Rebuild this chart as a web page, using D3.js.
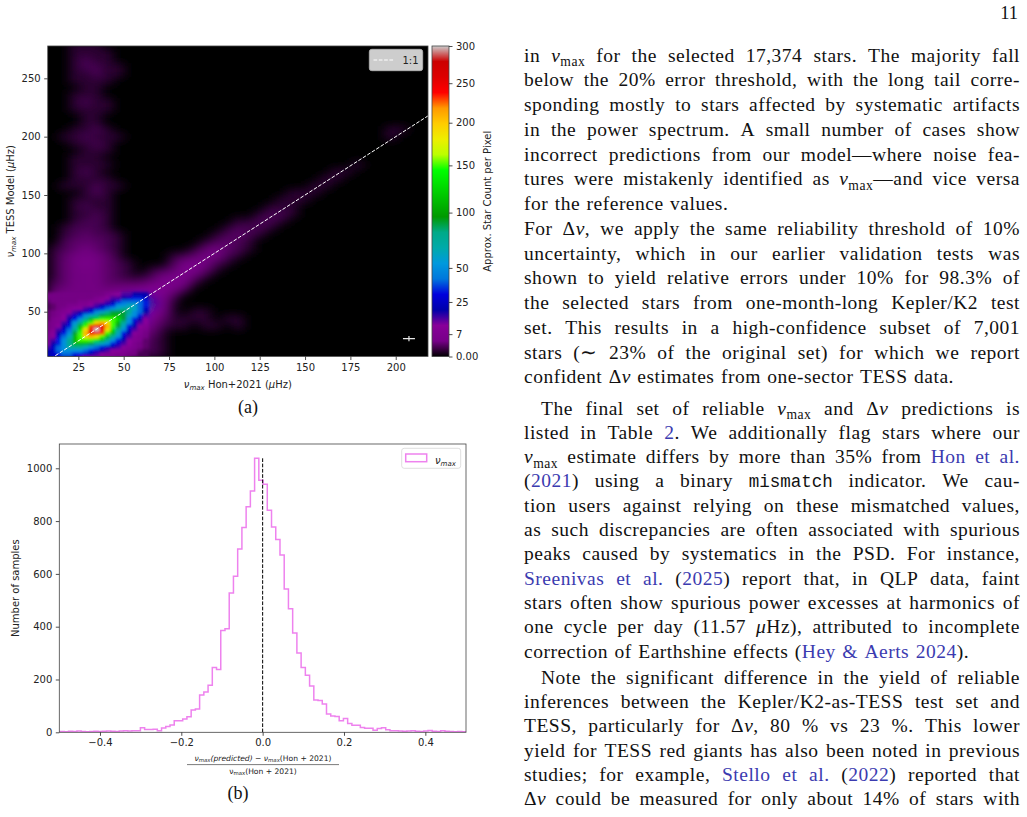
<!DOCTYPE html>
<html>
<head>
<meta charset="utf-8">
<script src="https://cdn.jsdelivr.net/npm/d3@7"></script>
<style>
  body { margin: 0; background: #fff; }
</style>
</head>
<body>
<svg id="page" width="1027" height="817"></svg>
<script>
// ---------- panel (a): approx. star count per pixel, one character per bin
var levelCodes = "0123456789abcdefghijklmnopqr";
var levelCounts = [0, 1, 2, 3, 4, 6, 8, 11, 15, 20, 25, 32, 40, 50, 62, 75, 90, 110, 130, 150, 170, 190, 210, 230, 250, 270, 290, 300];

// whole field, 6 uHz bins, bottom row first; "col:codes" runs, other bins are empty
var coarseBins = {x0: 8, y0: 11, size: 6};
var coarseRows = [
  ["0:bdcb9764221"],
  ["0:begfdb86321"],
  ["0:9eikjfb7421"],
  ["0:8chnojd9531"],
  ["0:6afknkgb7421101101"],
  ["0:58bfhihd9631111011"],
  ["0:468acefeb741011"],
  ["0:44578bddc951"],
  ["0:44444679a852"],
  ["0:3444445677642"],
  ["0:23444333345541"],
  ["0:134443211245531"],
  ["0:1344432101235531"],
  ["0:13454321000245421"],
  ["0:1344431", "11:1234421"],
  ["0:1234321", "13:134321"],
  ["1:233321", "14:12321"],
  ["1:123221", "15:12321"],
  ["1:12221", "16:12221"],
  ["2:1221", "17:11221"],
  ["2:1121", "19:1221"],
  ["2:1211", "20:111"],
  ["2:1111", "21:111"],
  ["3:121", "22:111"],
  ["1:111211", "24:11"],
  ["2:1111", "25:11"],
  ["2:121", "26:11"],
  ["2:1111", "28:1"],
  ["2:111"],
  ["3:111"],
  ["2:1121"],
  ["1:112111", "31:1"],
  ["2:1121", "31:11"],
  ["3:11"], ["3:11"],
  ["2:1111"],
  ["2:1211"],
  ["2:111"],
  ["3:11"],
  ["2:1111"],
  ["2:11211"],
  ["2:12211"],
  ["2:1211"],
  ["2:1111"],
  ["2:111"]
];

// dense core, 3 uHz bins, bottom row first
var fineBins = {x0: 6.5, y0: 9.5, size: 3};
var fineRows = [
  "9aaaa98776555443222",
  "9abccbba98766554422",
  "9acddddcba987765432",
  "8acdfffedcba9876543",
  "79bdfhhhgfedba87543",
  "68bdfhjjjihfdb97653",
  "67acehjlmljhfda8654",
  "579bdgjmoonjheb9764",
  "468acfilorolifda865",
  "4579behjnoomjgeb976",
  "4568adfijlmljhfda87",
  "35679bdfhijjjigdb97",
  "34578abdefghhhgedb8",
  "3456789abdefgggfdc9",
  "234567789abcdeffeca",
  "23445566789abddeecb",
  "3444445566789bccccb",
  "444444444567889abba",
  "4444444444456788999"
];

var colorTicks = [0, 7, 25, 50, 100, 150, 200, 250, 300];
var xTicksA = [25, 50, 75, 100, 125, 150, 175, 200];
var yTicksA = [50, 100, 150, 200, 250];
var typicalError = {x: 207.3, y: 26.9, dx: 3.3, dy: 2.3};

// nipy_spectral
var cmapStops = [0, 0.05, 0.10, 0.15, 0.20, 0.25, 0.30, 0.35, 0.40, 0.45, 0.50, 0.55, 0.60, 0.65, 0.70, 0.75, 0.80, 0.85, 0.90, 0.95, 1.0];
var cmapColors = ["#000000", "#770088", "#880099", "#0000aa", "#0000dd", "#0077dd", "#0099dd", "#00aaaa", "#00aa88", "#009900",
  "#00bb00", "#00dd00", "#00ff00", "#bbff00", "#eeee00", "#ffcc00", "#ff9900", "#ff0000", "#dd0000", "#cc0000", "#cccccc"];

// ---------- panel (b): histogram of relative differences
var histStart = -0.519, histWidth = 0.0104;
var histCounts = [
  1, 2, 3, 2, 4, 3, 5, 3, 2, 3, 4, 3, 4, 5, 4, 3, 5, 6, 5, 6,
  6, 17, 11, 11, 12, 6, 16, 22, 28, 44, 44, 50, 59, 84, 88, 141, 153, 178, 245, 238,
  386, 392, 528, 591, 694, 776, 854, 914, 1038, 955, 940, 841, 778, 730, 672, 543, 468, 376, 300, 245,
  216, 175, 122, 120, 107, 69, 62, 60, 44, 52, 33, 27, 27, 18, 15, 15, 8, 14, 17, 10,
  6, 6, 5, 4, 5, 6, 4, 3, 5, 7, 4, 3, 6, 4, 3, 2, 3, 2, 2, 1
];
var xTicksB = [-0.4, -0.2, 0, 0.2, 0.4];
var yTicksB = [0, 200, 400, 600, 800, 1000];

// ---------- text column
var paragraphs = [
  {indent: false, top: 61.5, lead: 24.75, last: true, lines: [
    "in %N for the selected 17,374 stars. The majority fall",
    "below the 20% error threshold, with the long tail corre-",
    "sponding mostly to stars affected by systematic artifacts",
    "in the power spectrum. A small number of cases show",
    "incorrect predictions from our model—where noise fea-",
    "tures were mistakenly identified as %N—and vice versa",
    "for the reference values."]},
  {indent: false, top: 234.75, lead: 24.75, last: true, lines: [
    "For %D, we apply the same reliability threshold of 10%",
    "uncertainty, which in our earlier validation tests was",
    "shown to yield relative errors under 10% for 98.3% of",
    "the selected stars from one-month-long Kepler/K2 test",
    "set. This results in a high-confidence subset of 7,001",
    "stars (∼ 23% of the original set) for which we report",
    "confident %D estimates from one-sector TESS data."]},
  {indent: true, top: 414.5, lead: 24.3, last: true, lines: [
    "The final set of reliable %N and %D predictions is",
    "listed in Table {2}. We additionally flag stars where our",
    "%N estimate differs by more than 35% from {Hon} {et} {al.}",
    "({2021}) using a binary `mismatch` indicator. We cau-",
    "tion users against relying on these mismatched values,",
    "as such discrepancies are often associated with spurious",
    "peaks caused by systematics in the PSD. For instance,",
    "{Sreenivas} {et} {al.} ({2025}) report that, in QLP data, faint",
    "stars often show spurious power excesses at harmonics of",
    "one cycle per day (11.57 %uHz), attributed to incomplete",
    "correction of Earthshine effects ({Hey} {&} {Aerts} {2024})."]},
  {indent: true, top: 684, lead: 24.2, last: false, lines: [
    "Note the significant difference in the yield of reliable",
    "inferences between the Kepler/K2-as-TESS test set and",
    "TESS, particularly for %D, 80 % vs 23 %. This lower",
    "yield for TESS red giants has also been noted in previous",
    "studies; for example, {Stello} {et} {al.} ({2022}) reported that",
    "%D could be measured for only about 14% of stars with"]}
];

var sansFont = "'DejaVu Sans', sans-serif",
    serifFont = "'Liberation Serif', 'Times New Roman', serif",
    monoFont = "'Liberation Mono', monospace",
    linkColor = "#3b3bb0",
    inkColor = "#222";

var svg = d3.select("#page");
svg.append("rect").attr("width", 1027).attr("height", 817).attr("fill", "#fff");
var defs = svg.append("defs");

var frac = d3.scalePow().exponent(0.7).domain([0, 300]).range([0, 1]).clamp(true);
var cmap = d3.scaleLinear().domain(cmapStops).range(cmapColors).interpolate(d3.interpolateRgb);

function mathText(sel, parts, subSize, subShift) {
  var down = false;
  parts.forEach(function(p) {
    var s = sel.append("tspan").text(p.t);
    if (p.it) s.attr("font-style", "italic");
    if (p.sub) {
      s.attr("font-size", subSize);
      if (!down) { s.attr("dy", subShift); down = true; }
    } else if (down) {
      s.attr("dy", -subShift); down = false;
    }
  });
  return sel;
}

function styleAxis(g) {
  g.attr("font-family", sansFont).attr("font-size", 10);
  g.select(".domain").remove();
  g.selectAll(".tick line").attr("stroke", inkColor).attr("stroke-width", 0.8);
  g.selectAll(".tick text").attr("fill", inkColor);
}

// ================= panel (a)
var boxA = {left: 47.7, right: 428, top: 46, bottom: 356.5};
var xA = d3.scaleLinear().domain([8.1, 217.8]).range([boxA.left, boxA.right]);
var yA = d3.scaleLinear().domain([11.6, 277.7]).range([boxA.bottom, boxA.top]);

defs.append("clipPath").attr("id", "clipA").append("rect")
    .attr("x", boxA.left).attr("y", boxA.top)
    .attr("width", boxA.right - boxA.left).attr("height", boxA.bottom - boxA.top);
defs.append("filter").attr("id", "blurCoarse")
    .attr("x", "-5%").attr("y", "-5%").attr("width", "110%").attr("height", "110%")
  .append("feGaussianBlur").attr("stdDeviation", "5.5 4.2");
defs.append("filter").attr("id", "blurFine")
    .attr("x", "-5%").attr("y", "-5%").attr("width", "110%").attr("height", "110%")
  .append("feGaussianBlur").attr("stdDeviation", "1.8 1.4");

function binsFrom(rows, bins) {
  var out = [];
  rows.forEach(function(row, r) {
    var runs = typeof row === "string" ? ["0:" + row] : row;
    runs.forEach(function(run) {
      var parts = run.split(":"), start = +parts[0];
      parts[1].split("").forEach(function(ch, k) {
        var v = levelCounts[levelCodes.indexOf(ch)];
        if (v > 0) out.push({x0: bins.x0 + (start + k) * bins.size, y0: bins.y0 + r * bins.size, size: bins.size, v: v});
      });
    });
  });
  return out;
}

var heat = svg.append("g").attr("clip-path", "url(#clipA)");
heat.append("rect")
    .attr("x", boxA.left).attr("y", boxA.top)
    .attr("width", boxA.right - boxA.left).attr("height", boxA.bottom - boxA.top)
    .attr("fill", "#000");

function drawBins(id, data) {
  heat.append("g").attr("filter", "url(#" + id + ")")
    .selectAll("rect").data(data).join("rect")
      .attr("x", function(d) { return xA(d.x0); })
      .attr("y", function(d) { return yA(d.y0 + d.size); })
      .attr("width", function(d) { return xA(d.x0 + d.size) - xA(d.x0) + 0.4; })
      .attr("height", function(d) { return yA(d.y0) - yA(d.y0 + d.size) + 0.4; })
      .attr("fill", function(d) { return cmap(frac(d.v)); });
}
drawBins("blurCoarse", binsFrom(coarseRows, coarseBins));
drawBins("blurFine", binsFrom(fineRows, fineBins));

// 1:1 line
heat.append("line")
    .attr("x1", xA(0)).attr("y1", yA(0)).attr("x2", xA(300)).attr("y2", yA(300))
    .attr("stroke", "#fff").attr("stroke-width", 1).attr("stroke-dasharray", "3.7,1.6");

// typical error bar
var eb = heat.append("g").attr("stroke", "#e8e8e8").attr("stroke-width", 1.2);
eb.append("line")
    .attr("x1", xA(typicalError.x - typicalError.dx)).attr("x2", xA(typicalError.x + typicalError.dx))
    .attr("y1", yA(typicalError.y)).attr("y2", yA(typicalError.y));
eb.append("line")
    .attr("x1", xA(typicalError.x)).attr("x2", xA(typicalError.x))
    .attr("y1", yA(typicalError.y - typicalError.dy)).attr("y2", yA(typicalError.y + typicalError.dy));

// legend
var legA = svg.append("g");
legA.append("rect").attr("x", 369.3).attr("y", 49.3).attr("width", 53.4).attr("height", 21.4).attr("rx", 2.5)
    .attr("fill", "#cdcdcd").attr("stroke", "#b5b5b5").attr("stroke-width", 0.8);
legA.append("line").attr("x1", 373.5).attr("x2", 393.5).attr("y1", 60).attr("y2", 60)
    .attr("stroke", "#fff").attr("stroke-width", 1).attr("stroke-dasharray", "3.7,1.6");
legA.append("text").attr("x", 402.5).attr("y", 63.8).attr("font-family", sansFont).attr("font-size", 10)
    .attr("fill", inkColor).text("1:1");

svg.append("rect")
    .attr("x", boxA.left).attr("y", boxA.top)
    .attr("width", boxA.right - boxA.left).attr("height", boxA.bottom - boxA.top)
    .attr("fill", "none").attr("stroke", "#444").attr("stroke-width", 0.8);

svg.append("g").attr("transform", "translate(0," + boxA.bottom + ")")
    .call(d3.axisBottom(xA).tickValues(xTicksA).tickSize(3.5).tickPadding(3.5))
    .call(styleAxis);
svg.append("g").attr("transform", "translate(" + boxA.left + ",0)")
    .call(d3.axisLeft(yA).tickValues(yTicksA).tickSize(3.5).tickPadding(3.5))
    .call(styleAxis);

mathText(svg.append("text").attr("x", (boxA.left + boxA.right) / 2).attr("y", 387.5)
    .attr("text-anchor", "middle").attr("font-family", sansFont).attr("font-size", 10).attr("fill", inkColor),
  [{t: "ν", it: 1}, {t: "max", it: 1, sub: 1}, {t: " Hon+2021 ("}, {t: "μ", it: 1}, {t: "Hz)"}], 7, 2);
mathText(svg.append("text").attr("transform", "translate(13.5," + (boxA.top + boxA.bottom) / 2 + ") rotate(-90)")
    .attr("text-anchor", "middle").attr("font-family", sansFont).attr("font-size", 10).attr("fill", inkColor),
  [{t: "ν", it: 1}, {t: "max", it: 1, sub: 1}, {t: " TESS Model ("}, {t: "μ", it: 1}, {t: "Hz)"}], 7, 2);

// colorbar
var cb = {left: 432, right: 449, top: boxA.top, bottom: boxA.bottom};
var yC = d3.scalePow().exponent(0.7).domain([0, 300]).range([cb.bottom, cb.top]);
var grad = defs.append("linearGradient").attr("id", "cbGrad")
    .attr("x1", 0).attr("y1", 1).attr("x2", 0).attr("y2", 0);
grad.selectAll("stop").data(cmapStops).join("stop")
    .attr("offset", function(d) { return d; })
    .attr("stop-color", function(d, i) { return cmapColors[i]; });
svg.append("rect").attr("x", cb.left).attr("y", cb.top)
    .attr("width", cb.right - cb.left).attr("height", cb.bottom - cb.top)
    .attr("fill", "url(#cbGrad)").attr("stroke", "#444").attr("stroke-width", 0.8);
svg.append("g").attr("transform", "translate(" + cb.right + ",0)")
    .call(d3.axisRight(yC).tickValues(colorTicks).tickSize(3.5).tickPadding(3.5)
      .tickFormat(function(d) { return d === 0 ? "0.00" : d; }))
    .call(styleAxis);
svg.append("text").attr("transform", "translate(490.5," + (cb.top + cb.bottom) / 2 + ") rotate(-90)")
    .attr("text-anchor", "middle").attr("font-family", sansFont).attr("font-size", 10).attr("fill", inkColor)
    .text("Approx. Star Count per Pixel");

// ================= panel (b)
var boxB = {left: 59.3, right: 466, top: 444, bottom: 732.3};
var xB = d3.scaleLinear().domain([-0.5, 0.5]).range([boxB.left, boxB.right]);
var yB = d3.scaleLinear().domain([0, 1092]).range([boxB.bottom, boxB.top]);

defs.append("clipPath").attr("id", "clipB").append("rect")
    .attr("x", boxB.left).attr("y", boxB.top - 2)
    .attr("width", boxB.right - boxB.left).attr("height", boxB.bottom - boxB.top + 2);

var steps = [[histStart, 0]];
histCounts.forEach(function(c, k) {
  var e0 = histStart + k * histWidth;
  steps.push([e0, c], [e0 + histWidth, c]);
});
steps.push([histStart + histCounts.length * histWidth, 0]);

var plotB = svg.append("g").attr("clip-path", "url(#clipB)");
plotB.append("path")
    .datum(steps)
    .attr("d", d3.line().x(function(d) { return xB(d[0]); }).y(function(d) { return yB(d[1]); }))
    .attr("fill", "none").attr("stroke", "violet").attr("stroke-width", 1.5);
plotB.append("line")
    .attr("x1", xB(0)).attr("x2", xB(0)).attr("y1", yB(0)).attr("y2", yB(d3.max(histCounts)))
    .attr("stroke", "#000").attr("stroke-width", 1).attr("stroke-dasharray", "3.7,1.6");

svg.append("rect")
    .attr("x", boxB.left).attr("y", boxB.top)
    .attr("width", boxB.right - boxB.left).attr("height", boxB.bottom - boxB.top)
    .attr("fill", "none").attr("stroke", "#444").attr("stroke-width", 0.8);

svg.append("g").attr("transform", "translate(0," + boxB.bottom + ")")
    .call(d3.axisBottom(xB).tickValues(xTicksB).tickSize(3.5).tickPadding(3.5)
      .tickFormat(function(d) { return d3.format(".1f")(d).replace("-", "−"); }))
    .call(styleAxis);
svg.append("g").attr("transform", "translate(" + boxB.left + ",0)")
    .call(d3.axisLeft(yB).tickValues(yTicksB).tickSize(3.5).tickPadding(3.5).tickFormat(d3.format("d")))
    .call(styleAxis);

svg.append("text").attr("transform", "translate(18.5," + (boxB.top + boxB.bottom) / 2 + ") rotate(-90)")
    .attr("text-anchor", "middle").attr("font-family", sansFont).attr("font-size", 10).attr("fill", inkColor)
    .text("Number of samples");

var legB = svg.append("g");
legB.append("rect").attr("x", 401.7).attr("y", 448.3).attr("width", 59).attr("height", 20).attr("rx", 2.5)
    .attr("fill", "#fff").attr("stroke", "#d6d6d6").attr("stroke-width", 0.8);
legB.append("rect").attr("x", 405.7).attr("y", 454).attr("width", 21).attr("height", 7.7)
    .attr("fill", "none").attr("stroke", "violet").attr("stroke-width", 1.5);
mathText(legB.append("text").attr("x", 435).attr("y", 463.5).attr("font-family", sansFont)
    .attr("font-size", 10).attr("fill", inkColor),
  [{t: "ν", it: 1}, {t: "max", it: 1, sub: 1}], 7, 2);

var frB = svg.append("g").attr("font-family", sansFont).attr("font-size", 7.6)
    .attr("fill", inkColor).attr("text-anchor", "middle");
mathText(frB.append("text").attr("x", 263).attr("y", 760.5),
  [{t: "ν", it: 1}, {t: "max", it: 1, sub: 1}, {t: "(predicted)", it: 1}, {t: " − "},
   {t: "ν", it: 1}, {t: "max", it: 1, sub: 1}, {t: "(Hon + 2021)"}], 5.4, 1.6);
frB.append("line").attr("x1", 187).attr("x2", 339).attr("y1", 764.6).attr("y2", 764.6)
    .attr("stroke", inkColor).attr("stroke-width", 0.6);
mathText(frB.append("text").attr("x", 263).attr("y", 773.8),
  [{t: "ν"}, {t: "max", sub: 1}, {t: "(Hon + 2021)"}], 5.4, 1.6);

// captions
svg.append("text").attr("x", 248).attr("y", 412.5).attr("text-anchor", "middle")
    .attr("font-family", serifFont).attr("font-size", 18).attr("fill", "#111").text("(a)");
svg.append("text").attr("x", 238).attr("y", 799).attr("text-anchor", "middle")
    .attr("font-family", serifFont).attr("font-size", 18).attr("fill", "#111").text("(b)");

// ================= text column
var col = {left: 524, right: 1020, indent: 17, space: 6.5};
svg.append("text").attr("x", 1018).attr("y", 19).attr("text-anchor", "end")
    .attr("font-family", serifFont).attr("font-size", 18.5).attr("fill", "#111").text("11");

var body = svg.append("g").attr("font-family", serifFont).attr("font-size", 19.5)
    .attr("letter-spacing", 0.5).attr("fill", "#111");

function parseWord(w) {
  var runs = [], link = false, mono = false, i = 0;
  function push(t, opt) {
    var last = runs[runs.length - 1];
    if (!opt && last && !last.it && !last.sub && last.link === link && last.mono === mono) {
      last.t += t;
    } else {
      runs.push(Object.assign({t: t, link: link, mono: mono}, opt || {}));
    }
  }
  while (i < w.length) {
    var two = w.substr(i, 2), ch = w[i];
    if (two === "%N") { push("ν", {it: true}); push("max", {sub: true}); i += 2; }
    else if (two === "%D") { push("Δ", {}); push("ν", {it: true}); i += 2; }
    else if (two === "%u") { push("μ", {it: true}); i += 2; }
    else if (ch === "{") { link = true; i++; }
    else if (ch === "}") { link = false; i++; }
    else if (ch === "`") { mono = !mono; i++; }
    else { push(ch); i++; }
  }
  return runs;
}

function renderWord(w, y) {
  var t = body.append("text").attr("y", y);
  var down = false;
  parseWord(w).forEach(function(r) {
    var s = t.append("tspan").text(r.t);
    if (r.it) s.attr("font-style", "italic");
    if (r.link) s.attr("fill", linkColor);
    if (r.mono) s.attr("font-family", monoFont).attr("font-size", 17.5).attr("letter-spacing", 0);
    if (r.sub) {
      s.attr("font-size", 13.6);
      if (!down) { s.attr("dy", 4.6); down = true; }
    } else if (down) {
      s.attr("dy", -4.6); down = false;
    }
  });
  return t;
}

function setLine(str, x0, x1, y, justify) {
  var words = str.split(" ");
  var nodes = words.map(function(w) { return renderWord(w, y); });
  var widths = nodes.map(function(t) { return t.node().getComputedTextLength(); });
  var gap = col.space;
  if (justify && words.length > 1) gap = Math.max(2, (x1 - x0 - d3.sum(widths)) / (words.length - 1));
  var x = x0;
  nodes.forEach(function(t, k) { t.attr("x", x); x += widths[k] + gap; });
}

paragraphs.forEach(function(p) {
  p.lines.forEach(function(line, k) {
    var x0 = col.left + (p.indent && k === 0 ? col.indent : 0);
    var isLast = p.last && k === p.lines.length - 1;
    setLine(line, x0, col.right, p.top + k * p.lead, !isLast);
  });
});
</script>
</body>
</html>
